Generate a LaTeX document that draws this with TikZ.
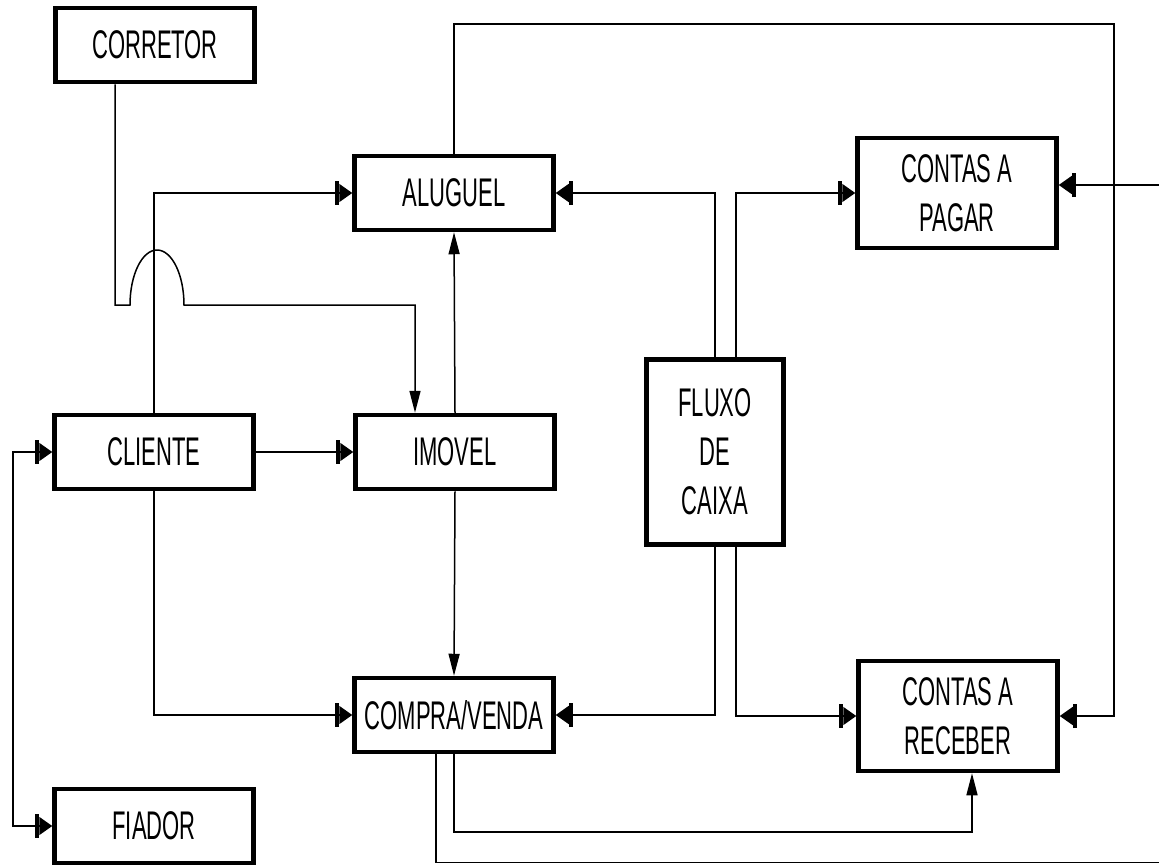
\documentclass[tikz,border=0pt]{standalone}
\usepackage{fontspec}
\setmainfont[FakeStretch=0.55]{Liberation Sans}
\usetikzlibrary{arrows.meta, positioning, calc}

\begin{document}
\begin{tikzpicture}[
    x=1pt, y=1pt,
    box/.style={draw, rectangle, minimum width=#1, minimum height=74pt, inner sep=0pt, align=center, line width=4.5pt, font=\fontsize{40}{49}\selectfont},
    box/.default=199pt,
    tallbox/.style={box, minimum height=110pt},
    hend/.tip={Bar[width=24pt, line width=4pt] Triangle[length=13pt, width=18pt]},
    vend/.tip={Triangle[length=22pt, width=11pt]},
    link/.style={-{hend}, line width=1.5pt},
    vlink/.style={-{vend}, line width=1.5pt},
    both/.style={{hend}-{hend}, line width=1.5pt}
]

\useasboundingbox (0,0) rectangle (1159,-865);
\clip (0,0) rectangle (1159,-865);

% --- Boxes ---
\node[box]      (corretor) at (155, -45)  {CORRETOR};
\node[box]      (aluguel)  at (454, -193) {ALUGUEL};
\node[box]      (cliente)  at (154, -452) {CLIENTE};
\node[box]      (imovel)   at (455, -452) {IMOVEL};
\node[box]      (compra)   at (454, -715) {COMPRA/VENDA};
\node[box]      (fiador)   at (154, -826) {FIADOR};
\node[tallbox]  (pagar)    at (957, -193) {CONTAS A\\PAGAR};
\node[tallbox]  (receber)  at (958, -716) {CONTAS A\\RECEBER};
\node[box=137pt, minimum height=185pt] (fluxo) at (715, -452) {FLUXO\\DE\\CAIXA};

% Corner points
\coordinate (jump) at (157, -305);
\coordinate (ne)   at (1114, -24);
\coordinate (lft)  at (13, -640);
\coordinate (rb)   at (972, -832);
\coordinate (se)   at (1175, -862.5);

% --- Cliente ---
\draw[link] (cliente.north) |- (aluguel.west);
\draw[link] (cliente.east) -- (imovel.west);
\draw[link] (cliente.south) |- (compra.west);
\draw[both] (cliente.west) -| (lft) |- (fiador.west);

% --- Corretor (jumps over the cliente line) ---
\draw[vlink] ([xshift=-40pt]corretor.south) |- ([xshift=-27pt]jump)
    arc[start angle=180, end angle=0, x radius=27pt, y radius=55pt]
    -| ([xshift=-40pt]imovel.north);

% --- Imovel ---
\draw[vlink] (imovel.north) -- (aluguel.south);
\draw[vlink] (imovel.south) -- (compra.north);

% --- Aluguel to contas a receber ---
\draw[link] (aluguel.north) |- (ne) |- (receber.east);

% --- Fluxo de caixa ---
\draw[link] (fluxo.north) |- (aluguel.east);
\draw[link] ([xshift=21pt]fluxo.north) |- (pagar.west);
\draw[link] (fluxo.south) |- (compra.east);
\draw[link] ([xshift=21pt]fluxo.south) |- (receber.west);

% --- Compra/venda ---
\draw[vlink] (compra.south) |- (rb) -- (rb |- receber.south);
\draw[link] ([xshift=-18pt]compra.south) |- (se) |- ([yshift=8pt]pagar.east);

\end{tikzpicture}
\end{document}
